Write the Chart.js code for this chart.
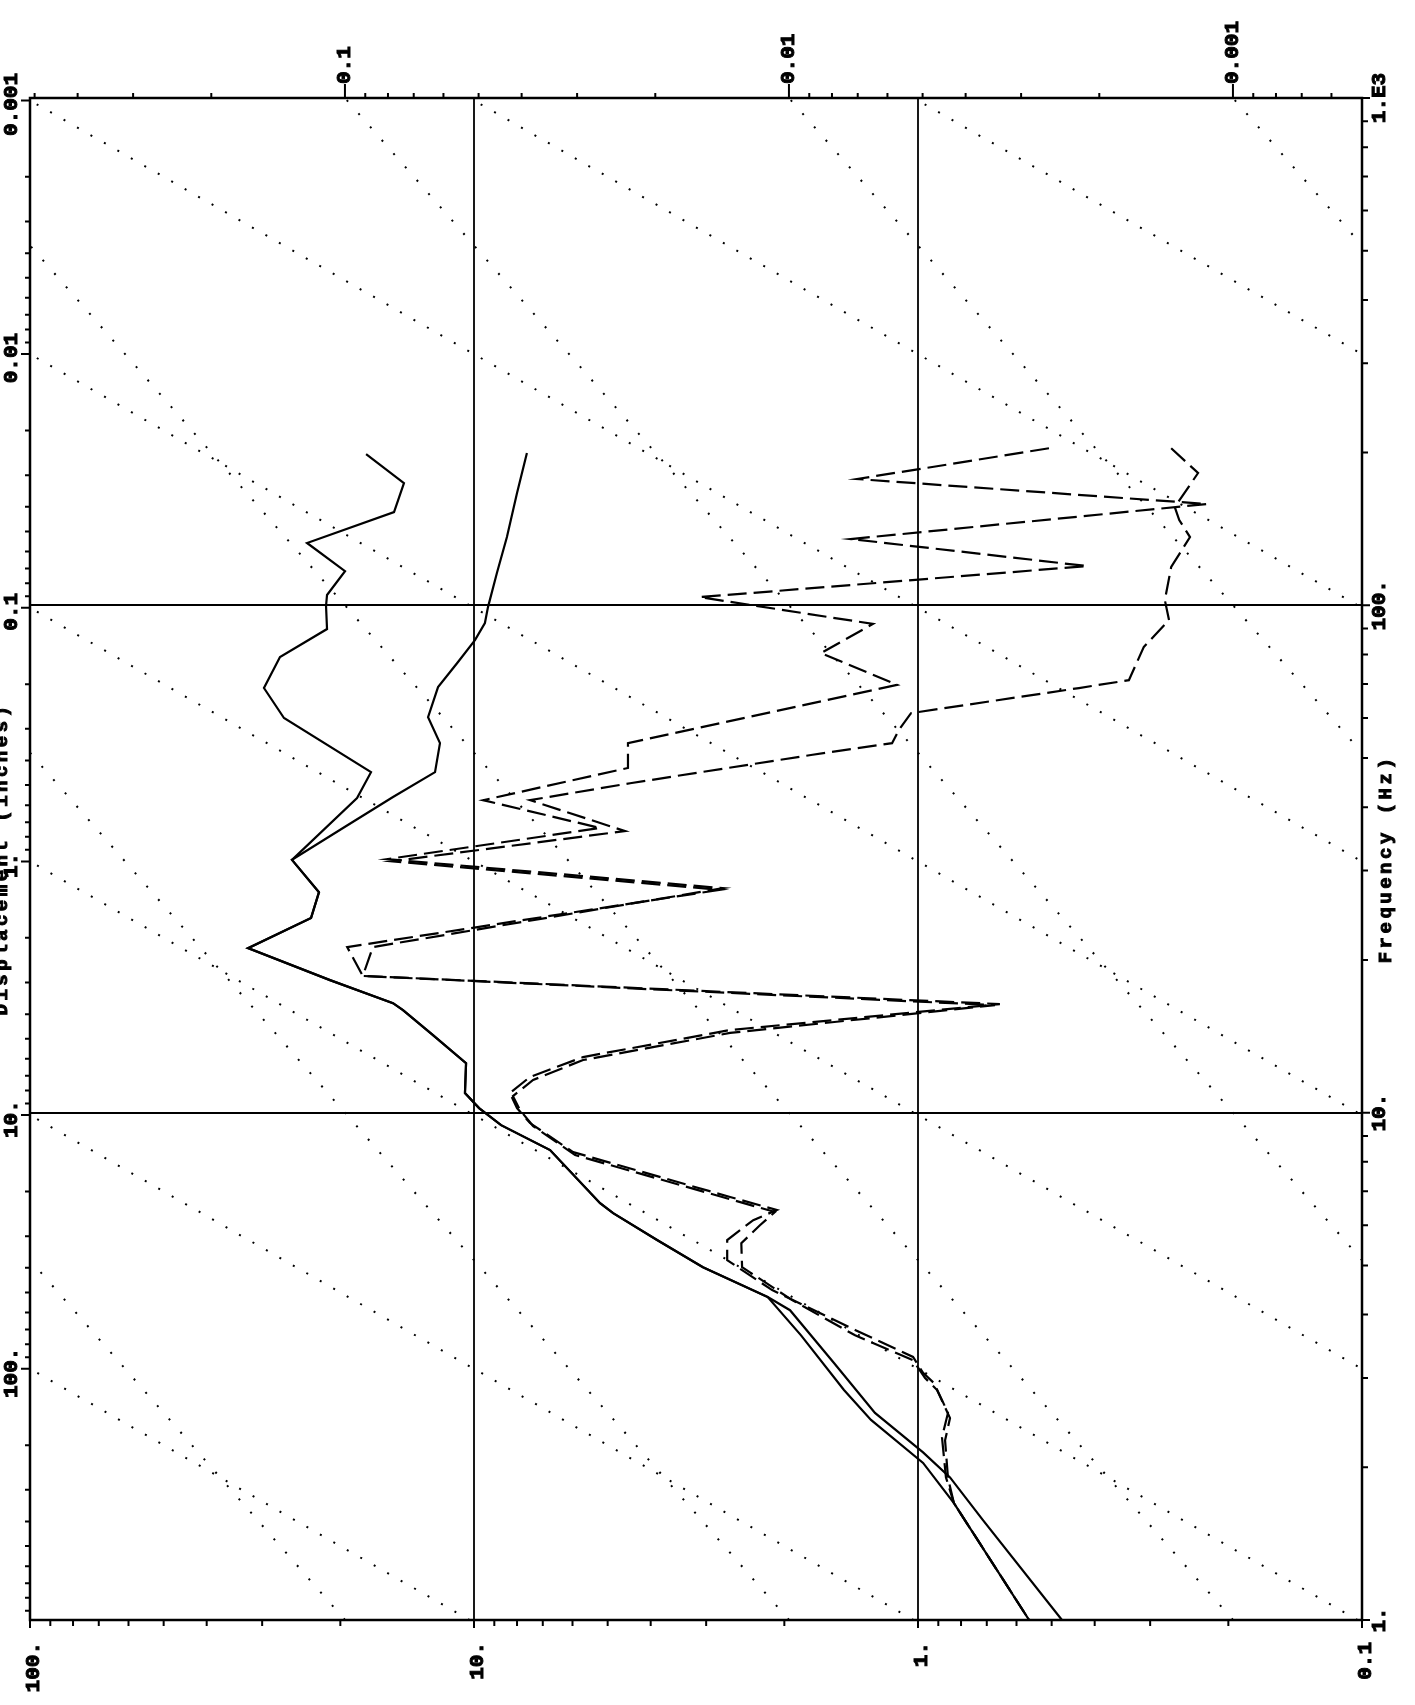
<!DOCTYPE html>
<html>
<head>
<meta charset="utf-8">
<script src="https://cdn.jsdelivr.net/npm/chart.js@4.4.0/dist/chart.umd.min.js"></script>
<style>
    html, body { margin: 0; padding: 0; background: #fff; }
    #wrap { width: 1415px; height: 1705px; }
</style>
</head>
<body>
<div id="wrap"><canvas id="shock" width="1415" height="1705"></canvas></div>
<script>
// shock spectrum, frequency (Hz) against acceleration (g) top to bottom
var s1Freq = [198.7, 174.2, 152.7, 132.7, 116.8, 104.8, 99.7, 89.8, 79.1, 68.7, 59.97, 46.9, 41.7, 31.5, 27.2, 24.2, 21.1, 18.25, 16.44, 15.93, 14.22, 12.52, 10.93, 10.21, 9.45, 8.44, 6.63, 6.34, 5.61, 4.96, 4.33, 3.64, 2.84, 2.48, 2.04, 1.70, 1.0]
var s1Acc = [17.5, 14.38, 15.14, 23.77, 19.52, 21.43, 21.54, 21.43, 27.35, 29.72, 26.79, 17.06, 18.34, 25.7, 22.34, 23.28, 32.28, 21.1, 15.22, 14.45, 12.37, 10.42, 10.48, 9.74, 8.69, 6.74, 5.20, 4.86, 3.87, 3.05, 2.18, 1.834, 1.468, 1.276, 0.974, 0.83, 0.562]

var s2Freq = [199.6, 166.5, 136.3, 115.8, 99.2, 92.3, 85.4, 76.9, 69.0, 60.2, 53.5, 46.9, 41.9, 36.6, 31.5, 27.2, 24.2, 21.1, 18.25, 16.44, 15.93, 14.22, 12.52, 10.93, 10.21, 9.45, 8.44, 6.63, 6.34, 5.61, 4.96, 4.33, 4.08, 3.21, 2.56, 2.14, 1.91, 1.574, 1.0]
var s2Acc = [7.60, 8.00, 8.43, 8.88, 9.30, 9.45, 9.95, 10.92, 12.05, 12.69, 11.93, 12.24, 15.22, 19.52, 25.7, 22.34, 23.28, 32.28, 21.1, 15.22, 14.45, 12.37, 10.42, 10.48, 9.74, 8.69, 6.74, 5.20, 4.86, 3.87, 3.05, 2.18, 1.942, 1.546, 1.25, 0.974, 0.847, 0.714, 0.474]

var d1Freq = [204, 177.4, 158.4, 135.1, 119.5, 103.8, 91.9, 80.5, 69.7, 53.5, 47.8, 41.3, 36.4, 31.6, 27.7, 21.2, 18.6, 16.37, 14.55, 12.87, 11.76, 10.93, 10.21, 9.54, 8.36, 6.82, 6.43, 6.14, 5.61, 5.12, 4.47, 3.73, 3.30, 3.07, 2.93, 2.56, 2.29, 1.91, 1.70, 1.0]
var d1Acc = [0.507, 1.372, 0.2235, 1.415, 0.416, 3.10, 1.263, 1.654, 1.115, 4.50, 4.50, 9.54, 5.20, 15.7, 2.75, 16.9, 17.8, 0.654, 2.65, 5.68, 7.48, 8.30, 8.00, 7.48, 5.98, 2.65, 2.08, 2.35, 2.69, 2.69, 2.13, 1.386, 1.026, 0.974, 0.920, 0.856, 0.883, 0.865, 0.83, 0.562]

var d2Freq = [204, 182.3, 156.2, 147.3, 136.3, 119.0, 102.4, 93.5, 82.8, 71.2, 68.7, 61.3, 56.8, 53.5, 50.7, 44.6, 41.3, 35.9, 31.3, 27.5, 21.2, 18.6, 16.29, 14.36, 12.70, 11.60, 10.78, 10.12, 9.41, 8.25, 6.75, 6.37, 6.00, 5.53, 4.96, 4.27, 3.64, 3.25, 3.00, 2.84, 2.50, 2.26, 1.905, 1.70, 1.0]
var d2Acc = [0.269, 0.234, 0.264, 0.258, 0.244, 0.269, 0.278, 0.272, 0.310, 0.335, 0.434, 1.037, 1.104, 1.144, 1.742, 4.45, 7.48, 4.57, 15.3, 2.79, 19.3, 17.8, 0.671, 2.65, 5.68, 7.36, 8.17, 7.88, 7.36, 5.92, 2.65, 2.10, 2.27, 2.50, 2.49, 1.92, 1.386, 1.026, 0.964, 0.906, 0.847, 0.869, 0.856, 0.83, 0.562]

// axis labels
var accTicks = [100, 10, 1, 0.1]
var accLabels = ['100.', '10.', '1.', '0.1']
var freqTicks = [1, 10, 100, 1000]
var freqLabels = ['1.', '10.', '100.', '1.E3']
var dispTicks = [0.001, 0.01, 0.1, 1, 10, 100]
var dispLabels = ['0.001', '0.01', '0.1', '1.', '10.', '100.']
var velTicks = [0.1, 0.01, 0.001]
var velLabels = ['0.1', '0.01', '0.001']

// constant displacement (in) and velocity (ft/s) guide lines
var dispLines = [1e-5, 1e-4, 1e-3, 1e-2, 0.1, 1, 10, 100]
var velLines = [0.001, 0.01, 0.1, 1, 10, 100]

var G = 386.1 // in/s^2 per g
var TWO_PI = 2 * Math.PI
var accMin = 0.1, accMax = 100, fMin = 1, fMax = 1000
// velocity along the top edge (f = 1000) and displacement along the left edge (a = 100)
var velK = G / 12 / (TWO_PI * fMax)
var dispTop = accMax * G / Math.pow(TWO_PI * fMax, 2)
var dispBottom = accMax * G / Math.pow(TWO_PI * fMin, 2)

function pts(fr, ac) {
    return fr.map((f, i) => ({ x: ac[i], y: f }))
}

function logValues(lo, hi) {
    var out = []
    for (var k = -8; k <= 4; k++) {
        for (var n = 1; n <= 9; n++) {
            var v = n * Math.pow(10, k)
            if (v >= lo * 0.9999 && v <= hi * 1.0001) out.push({ v: v, major: n === 1 })
        }
    }
    return out
}

var datasets = []
var curve = { showLine: true, pointRadius: 0, borderColor: '#000', borderWidth: 2.2, tension: 0, fill: false, xAxisID: 'x', yAxisID: 'y' }
datasets.push(Object.assign({ label: 'run 1', data: pts(s1Freq, s1Acc) }, curve))
datasets.push(Object.assign({ label: 'run 2', data: pts(s2Freq, s2Acc) }, curve))
datasets.push(Object.assign({ label: 'run 3', data: pts(d1Freq, d1Acc), borderDash: [19, 7] }, curve))
datasets.push(Object.assign({ label: 'run 4', data: pts(d2Freq, d2Acc), borderDash: [19, 7] }, curve))

dispLines.forEach(function (d) {
    datasets.push(Object.assign({}, curve, {
        label: 'D ' + d,
        data: [fMin, fMax].map(f => ({ x: d * Math.pow(TWO_PI * f, 2) / G, y: f })),
        borderWidth: 2,
        borderDash: [2, 13.5]
    }))
})
velLines.forEach(function (v) {
    datasets.push(Object.assign({}, curve, {
        label: 'V ' + v,
        data: [fMin, fMax].map(f => ({ x: v * 12 * TWO_PI * f / G, y: f })),
        borderWidth: 2,
        borderDash: [2, 15.7]
    }))
})

const LABEL_FONT = 'bold 21px "Liberation Mono", "DejaVu Sans Mono", monospace'
const TITLE_FONT = 'bold 19px "Liberation Mono", "DejaVu Sans Mono", monospace'

// rotated text, drawn with a thin outline so it reads as heavy as the plotter font
function vText(ctx, str, x, y, align, baseline) {
    ctx.save()
    ctx.translate(x, y)
    ctx.rotate(-Math.PI / 2)
    ctx.textAlign = align
    ctx.textBaseline = baseline
    ctx.lineWidth = 1
    ctx.fillText(str, 0, 0)
    ctx.strokeText(str, 0, 0)
    ctx.restore()
}

const tripartite = {
    id: 'tripartite',
    beforeDatasetsDraw(chart) {
        const { ctx, chartArea: a, scales } = chart
        ctx.save()
        ctx.strokeStyle = '#000'
        ctx.lineWidth = 1.8
        ctx.beginPath()
        accTicks.forEach(v => {
            if (v > accMin && v < accMax) {
                const px = Math.round(scales.x.getPixelForValue(v))
                ctx.moveTo(px, a.top)
                ctx.lineTo(px, a.bottom)
            }
        })
        freqTicks.forEach(v => {
            if (v > fMin && v < fMax) {
                const py = Math.round(scales.y.getPixelForValue(v))
                ctx.moveTo(a.left, py)
                ctx.lineTo(a.right, py)
            }
        })
        ctx.stroke()
        ctx.restore()
    },
    afterDatasetsDraw(chart) {
        const { ctx, chartArea: a, scales } = chart
        ctx.save()
        ctx.strokeStyle = '#000'
        ctx.fillStyle = '#000'

        // frame
        ctx.lineWidth = 2.5
        ctx.strokeRect(a.left, a.top, a.right - a.left, a.bottom - a.top)

        // tick marks on all four sides
        ctx.lineWidth = 2
        ctx.beginPath()
        logValues(accMin, accMax).forEach(t => {
            const px = scales.x.getPixelForValue(t.v)
            ctx.moveTo(px, a.bottom)
            ctx.lineTo(px, a.bottom + (t.major ? 8 : 6))
        })
        logValues(fMin, fMax).forEach(t => {
            const py = scales.y.getPixelForValue(t.v)
            ctx.moveTo(a.right, py)
            ctx.lineTo(a.right + (t.major ? 8 : 6), py)
        })
        logValues(accMin * velK, accMax * velK).forEach(t => {
            const px = scales.xv.getPixelForValue(t.v)
            ctx.moveTo(px, a.top)
            ctx.lineTo(px, a.top - (t.major ? 14 : 5))
        })
        logValues(dispTop, dispBottom).forEach(t => {
            const py = scales.yd.getPixelForValue(t.v)
            ctx.moveTo(a.left, py)
            ctx.lineTo(a.left - (t.major ? 9 : 5), py)
        })
        ctx.stroke()

        // tick labels, all turned to read bottom to top
        ctx.font = LABEL_FONT
        accTicks.forEach((v, i) => {
            vText(ctx, accLabels[i], scales.x.getPixelForValue(v) + 4, a.bottom + 22, 'right', 'middle')
        })
        velTicks.forEach((v, i) => {
            vText(ctx, velLabels[i], scales.xv.getPixelForValue(v), a.top - 14, 'left', 'middle')
        })
        freqTicks.forEach((v, i) => {
            vText(ctx, freqLabels[i], a.right + 18, scales.y.getPixelForValue(v), 'center', 'middle')
        })
        dispTicks.forEach((v, i) => {
            vText(ctx, dispLabels[i], a.left - 18, scales.yd.getPixelForValue(v) + 4, 'center', 'middle')
        })

        // axis titles
        ctx.font = TITLE_FONT
        ctx.letterSpacing = '3.5px'
        vText(ctx, 'Displacement (inches)', 7, (a.top + a.bottom) / 2, 'center', 'alphabetic')
        vText(ctx, 'Frequency (Hz)', a.right + 24, (a.top + a.bottom) / 2, 'center', 'middle')
        ctx.restore()
    }
}

new Chart(document.getElementById('shock').getContext('2d'), {
    type: 'scatter',
    data: { datasets: datasets },
    options: {
        responsive: false,
        devicePixelRatio: 1,
        animation: false,
        layout: { padding: { left: 30, right: 53, top: 98, bottom: 85 } },
        plugins: {
            legend: { display: false },
            tooltip: { enabled: false }
        },
        scales: {
            x: { type: 'logarithmic', min: accMin, max: accMax, reverse: true, display: false },
            y: { type: 'logarithmic', min: fMin, max: fMax, display: false },
            xv: { type: 'logarithmic', axis: 'x', min: accMin * velK, max: accMax * velK, reverse: true, display: false },
            yd: { type: 'logarithmic', axis: 'y', min: dispTop, max: dispBottom, reverse: true, display: false }
        }
    },
    plugins: [tripartite]
})
</script>
</body>
</html>
